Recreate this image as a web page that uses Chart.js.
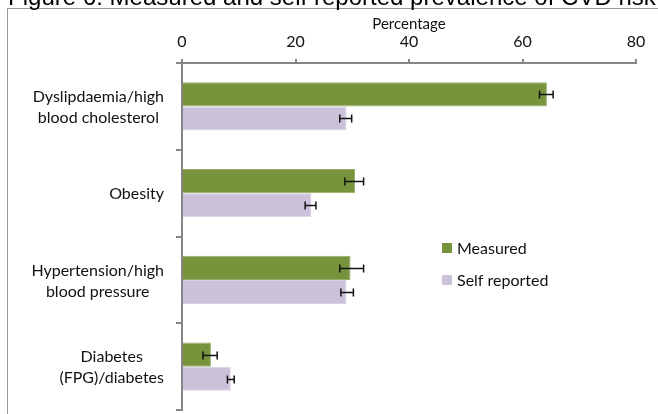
<!DOCTYPE html>
<html>
<head>
<meta charset="utf-8">
<script src="https://cdn.jsdelivr.net/npm/chart.js@4/dist/chart.umd.min.js"></script>
<style>
  html, body { margin: 0; padding: 0; background: #fff; }
  #wrap { width: 658px; height: 414px; position: relative; }
</style>
</head>
<body>
<div id="wrap"><canvas id="c" width="658" height="414"></canvas></div>
<script>
// Categories (one array of lines per category)
const categories = [
  ["Dyslipdaemia/high", "blood cholesterol"],
  ["Obesity"],
  ["Hypertension/high", "blood pressure"],
  ["Diabetes", "(FPG)/diabetes"]
];
const seriesNames = ["Measured", "Self reported"];

// Prevalence (%) with 95% confidence limits
const measured = [64.3, 30.5, 29.7, 5.1];
const measuredLow = [63.0, 28.7, 27.8, 3.7];
const measuredHigh = [65.4, 32.0, 32.0, 6.2];

const selfReported = [29.0, 22.8, 29.0, 8.6];
const selfReportedLow = [27.8, 21.7, 28.0, 8.0];
const selfReportedHigh = [29.9, 23.6, 30.2, 9.2];

const xTicks = [0, 20, 40, 60, 80];
const titleText = "Figure 6: Measured and self reported prevalence of CVD risk";
const axisTitle = "Percentage";

const AXIS_GREY = "#868686";
const LABEL_FONT = "Lato";

// Outer frame and figure title
const framePlugin = {
  id: "frame",
  beforeDraw(chart) {
    const ctx = chart.ctx;
    ctx.save();
    ctx.fillStyle = "#fff";
    ctx.fillRect(0, 0, chart.width, chart.height);
    ctx.strokeStyle = "#999";
    ctx.lineWidth = 1;
    ctx.beginPath();
    ctx.moveTo(7.5, chart.height);
    ctx.lineTo(7.5, 8.5);
    ctx.lineTo(chart.width, 8.5);
    ctx.stroke();
    // title, fitted to span the frame width
    const startX = 8, endX = 656;
    ctx.font = "20px 'Liberation Sans', Arial, sans-serif";
    const w = ctx.measureText(titleText).width;
    const size = 20 * (endX - startX) / w;
    ctx.font = size.toFixed(2) + "px 'Liberation Sans', Arial, sans-serif";
    ctx.fillStyle = "#000";
    ctx.textBaseline = "alphabetic";
    ctx.textAlign = "left";
    ctx.fillText(titleText, startX, 5);
    ctx.restore();
  }
};

// Error bars from the confidence limits stored on each dataset
const errorBarPlugin = {
  id: "errorBars",
  afterDatasetsDraw(chart) {
    const ctx = chart.ctx;
    const xs = chart.scales.x;
    chart.data.datasets.forEach((ds, i) => {
      const meta = chart.getDatasetMeta(i);
      meta.data.forEach((bar, j) => {
        const y = Math.round(bar.y) + 0.5;
        const x1 = xs.getPixelForValue(ds.errLow[j]);
        const x2 = xs.getPixelForValue(ds.errHigh[j]);
        ctx.save();
        ctx.strokeStyle = "#111";
        ctx.lineWidth = 1.5;
        ctx.beginPath();
        ctx.moveTo(x1, y); ctx.lineTo(x2, y);
        ctx.moveTo(x1, y - 4); ctx.lineTo(x1, y + 4);
        ctx.moveTo(x2, y - 4); ctx.lineTo(x2, y + 4);
        ctx.stroke();
        ctx.restore();
      });
    });
  }
};

// Category labels: block right-aligned, lines centred inside the block
const categoryLabelPlugin = {
  id: "categoryLabels",
  afterDraw(chart) {
    const ctx = chart.ctx;
    const ys = chart.scales.y;
    const rightEdge = 164;
    const lineH = 21;
    ctx.save();
    ctx.font = "16px " + LABEL_FONT;
    ctx.fillStyle = "#111";
    ctx.textAlign = "center";
    ctx.textBaseline = "middle";
    categories.forEach((lines, i) => {
      const yc = ys.getPixelForTick(i);
      const blockW = Math.max(...lines.map(l => ctx.measureText(l).width));
      const cx = rightEdge - blockW / 2;
      const y0 = yc - (lines.length - 1) * lineH / 2 + 1;
      lines.forEach((l, k) => ctx.fillText(l, cx, y0 + k * lineH));
    });
    ctx.restore();
  }
};

// Legend drawn inside the plot area
const legendPlugin = {
  id: "innerLegend",
  afterDraw(chart) {
    const ctx = chart.ctx;
    const x = 442, y0 = 248, gap = 32, box = 10;
    ctx.save();
    ctx.font = "16px " + LABEL_FONT;
    ctx.textBaseline = "middle";
    ctx.textAlign = "left";
    chart.data.datasets.forEach((ds, i) => {
      const y = y0 + i * gap;
      ctx.fillStyle = ds.backgroundColor;
      ctx.fillRect(x, y - box / 2, box, box);
      ctx.fillStyle = "#111";
      ctx.fillText(ds.label, x + 15, y + 1);
    });
    ctx.restore();
  }
};

const ctx = document.getElementById("c").getContext("2d");
new Chart(ctx, {
  type: "bar",
  data: {
    labels: categories.map(l => l.join(" ")),
    datasets: [
      {
        label: seriesNames[0],
        data: measured,
        errLow: measuredLow,
        errHigh: measuredHigh,
        backgroundColor: "#77933C",
        borderColor: "#96AE68",
        borderWidth: 1
      },
      {
        label: seriesNames[1],
        data: selfReported,
        errLow: selfReportedLow,
        errHigh: selfReportedHigh,
        backgroundColor: "#CCC1DA",
        borderColor: "#D9D1E3",
        borderWidth: 1
      }
    ]
  },
  options: {
    indexAxis: "y",
    responsive: false,
    animation: false,
    devicePixelRatio: 1,
    layout: { padding: { top: 0, left: 0, right: 22, bottom: 4 } },
    datasets: { bar: { categoryPercentage: 0.555, barPercentage: 1 } },
    plugins: {
      legend: { display: false },
      tooltip: { enabled: false },
      title: { display: false }
    },
    scales: {
      x: {
        position: "top",
        min: 0,
        max: 80,
        afterBuildTicks: s => { s.ticks = xTicks.map(v => ({ value: v })); },
        afterFit: s => { s.height = 63; },
        grid: { drawOnChartArea: false, drawTicks: true, tickLength: 4, color: AXIS_GREY, lineWidth: 2 },
        border: { color: AXIS_GREY, width: 2 },
        ticks: { color: "#111", font: { family: LABEL_FONT, size: 16 }, padding: 8 },
        title: {
          display: true,
          text: axisTitle,
          color: "#111",
          font: { family: LABEL_FONT, size: 15 },
          padding: { top: 15, bottom: 0 }
        }
      },
      y: {
        afterFit: s => { s.width = 182; },
        grid: { drawOnChartArea: false, offset: true, drawTicks: true, tickLength: 6, color: AXIS_GREY, lineWidth: 2 },
        border: { color: AXIS_GREY, width: 2 },
        ticks: { display: false }
      }
    }
  },
  plugins: [framePlugin, errorBarPlugin, categoryLabelPlugin, legendPlugin]
});
</script>
</body>
</html>
